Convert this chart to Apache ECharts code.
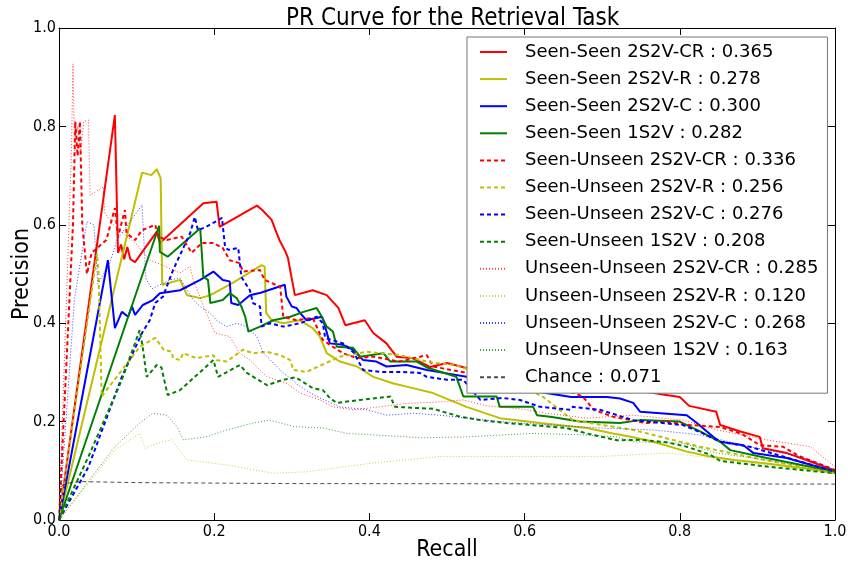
<!DOCTYPE html>
<html><head><meta charset="utf-8">
<script src="https://cdn.jsdelivr.net/npm/echarts@6/dist/echarts.min.js"></script>
<style>html,body{margin:0;padding:0;background:#fff}#c{width:848px;height:563px}</style>
</head><body><div id="c"></div>
<script>
const xTicks = [0.0, 0.2, 0.4, 0.6, 0.8, 1.0];
const yTicks = [0.0, 0.2, 0.4, 0.6, 0.8, 1.0];

const ssCR = [[0,0],[0.072,0.823],[0.076,0.543],[0.080,0.56],[0.084,0.53],[0.088,0.555],[0.092,0.53],[0.098,0.524],[0.126,0.586],[0.130,0.563],[0.186,0.644],[0.203,0.647],[0.207,0.596],[0.255,0.639],[0.262,0.63],[0.274,0.61],[0.280,0.585],[0.285,0.566],[0.292,0.545],[0.295,0.533],[0.300,0.49],[0.304,0.457],[0.327,0.467],[0.345,0.457],[0.352,0.445],[0.360,0.431],[0.369,0.396],[0.394,0.406],[0.405,0.38],[0.422,0.359],[0.435,0.332],[0.456,0.329],[0.478,0.311],[0.50,0.319],[0.525,0.309],[0.56,0.30],[0.62,0.29],[0.68,0.28],[0.74,0.265],[0.778,0.255],[0.80,0.25],[0.812,0.232],[0.847,0.22],[0.852,0.193],[0.878,0.18],[0.903,0.169],[0.907,0.146],[0.938,0.136],[0.963,0.122],[1.0,0.10]];
const ssR = [[0,0],[0.107,0.706],[0.119,0.701],[0.126,0.713],[0.131,0.695],[0.133,0.478],[0.156,0.488],[0.165,0.457],[0.182,0.451],[0.195,0.457],[0.224,0.482],[0.261,0.518],[0.265,0.515],[0.267,0.421],[0.274,0.406],[0.289,0.40],[0.31,0.406],[0.327,0.39],[0.336,0.373],[0.345,0.339],[0.362,0.322],[0.384,0.312],[0.405,0.291],[0.43,0.278],[0.456,0.268],[0.482,0.258],[0.525,0.23],[0.568,0.207],[0.62,0.197],[0.68,0.187],[0.714,0.176],[0.74,0.168],[0.766,0.159],[0.809,0.139],[0.839,0.129],[0.87,0.122],[0.912,0.115],[0.96,0.105],[1.0,0.096]];
const ssC = [[0,0],[0.063,0.528],[0.072,0.39],[0.081,0.423],[0.089,0.413],[0.094,0.434],[0.098,0.417],[0.108,0.437],[0.121,0.447],[0.130,0.461],[0.156,0.467],[0.182,0.488],[0.199,0.505],[0.211,0.488],[0.22,0.485],[0.222,0.441],[0.231,0.437],[0.246,0.457],[0.26,0.462],[0.291,0.478],[0.293,0.454],[0.30,0.434],[0.306,0.431],[0.311,0.42],[0.319,0.406],[0.339,0.413],[0.343,0.393],[0.349,0.359],[0.366,0.356],[0.379,0.346],[0.392,0.325],[0.409,0.322],[0.422,0.312],[0.448,0.315],[0.474,0.305],[0.50,0.298],[0.525,0.291],[0.58,0.27],[0.64,0.255],[0.66,0.25],[0.706,0.25],[0.723,0.247],[0.74,0.238],[0.749,0.22],[0.775,0.217],[0.809,0.213],[0.822,0.197],[0.843,0.169],[0.852,0.159],[0.882,0.152],[0.895,0.136],[0.938,0.126],[1.0,0.098]];
const ss1 = [[0,0],[0.129,0.598],[0.13,0.545],[0.14,0.535],[0.182,0.593],[0.186,0.494],[0.192,0.488],[0.195,0.441],[0.211,0.447],[0.22,0.461],[0.229,0.451],[0.235,0.434],[0.24,0.413],[0.244,0.383],[0.259,0.393],[0.276,0.406],[0.298,0.413],[0.315,0.423],[0.332,0.431],[0.338,0.415],[0.345,0.393],[0.353,0.383],[0.358,0.352],[0.379,0.35],[0.388,0.332],[0.418,0.339],[0.427,0.322],[0.461,0.322],[0.474,0.31],[0.512,0.291],[0.521,0.251],[0.564,0.251],[0.568,0.23],[0.611,0.23],[0.616,0.213],[0.633,0.21],[0.671,0.2],[0.723,0.197],[0.749,0.203],[0.80,0.20],[0.826,0.18],[0.852,0.159],[0.865,0.142],[0.912,0.126],[1.0,0.098]];
const suCR = [[0,0],[0.018,0.6],[0.021,0.81],[0.024,0.74],[0.027,0.81],[0.03,0.6],[0.036,0.5],[0.042,0.543],[0.061,0.569],[0.072,0.634],[0.076,0.576],[0.085,0.63],[0.087,0.583],[0.098,0.569],[0.107,0.589],[0.124,0.6],[0.128,0.576],[0.139,0.569],[0.158,0.576],[0.171,0.543],[0.184,0.563],[0.199,0.563],[0.211,0.553],[0.22,0.528],[0.233,0.522],[0.237,0.505],[0.259,0.508],[0.265,0.488],[0.285,0.474],[0.289,0.413],[0.306,0.406],[0.327,0.411],[0.334,0.386],[0.34,0.366],[0.353,0.352],[0.366,0.339],[0.384,0.329],[0.405,0.332],[0.439,0.322],[0.474,0.335],[0.482,0.312],[0.525,0.299],[0.60,0.28],[0.66,0.26],[0.675,0.251],[0.689,0.224],[0.714,0.21],[0.757,0.197],[0.783,0.20],[0.813,0.193],[0.852,0.189],[0.88,0.175],[0.903,0.152],[0.933,0.149],[0.955,0.129],[1.0,0.102]];
const suR = [[0,0],[0.049,0.542],[0.051,0.5],[0.055,0.251],[0.104,0.352],[0.124,0.37],[0.135,0.346],[0.145,0.342],[0.147,0.329],[0.156,0.325],[0.16,0.339],[0.177,0.329],[0.199,0.335],[0.203,0.325],[0.216,0.322],[0.237,0.346],[0.25,0.339],[0.268,0.342],[0.285,0.335],[0.298,0.325],[0.302,0.305],[0.319,0.301],[0.362,0.332],[0.397,0.342],[0.439,0.335],[0.48,0.32],[0.51,0.315],[0.56,0.29],[0.60,0.27],[0.624,0.25],[0.662,0.203],[0.74,0.183],[0.826,0.149],[0.90,0.125],[1.0,0.095]];
const suC = [[0,0],[0.038,0.108],[0.081,0.291],[0.107,0.38],[0.117,0.406],[0.124,0.441],[0.134,0.454],[0.147,0.508],[0.169,0.583],[0.175,0.616],[0.179,0.589],[0.19,0.596],[0.21,0.614],[0.214,0.555],[0.218,0.549],[0.231,0.553],[0.235,0.494],[0.246,0.467],[0.25,0.441],[0.259,0.434],[0.261,0.393],[0.272,0.40],[0.289,0.393],[0.311,0.40],[0.332,0.413],[0.34,0.40],[0.343,0.37],[0.366,0.359],[0.38,0.34],[0.392,0.305],[0.414,0.301],[0.439,0.301],[0.465,0.299],[0.474,0.291],[0.50,0.285],[0.521,0.285],[0.543,0.244],[0.572,0.248],[0.594,0.244],[0.62,0.23],[0.659,0.224],[0.662,0.23],[0.697,0.224],[0.74,0.203],[0.804,0.193],[0.83,0.176],[0.852,0.159],[0.89,0.149],[0.933,0.129],[1.0,0.098]];
const su1 = [[0,0],[0.038,0.129],[0.081,0.285],[0.104,0.386],[0.108,0.35],[0.113,0.291],[0.126,0.315],[0.132,0.31],[0.14,0.254],[0.156,0.264],[0.199,0.325],[0.205,0.291],[0.233,0.315],[0.242,0.299],[0.268,0.274],[0.289,0.285],[0.305,0.29],[0.327,0.268],[0.34,0.264],[0.349,0.248],[0.358,0.238],[0.388,0.244],[0.427,0.251],[0.433,0.23],[0.482,0.226],[0.517,0.21],[0.543,0.203],[0.577,0.197],[0.654,0.187],[0.68,0.176],[0.719,0.162],[0.75,0.163],[0.783,0.158],[0.809,0.149],[0.839,0.133],[0.852,0.12],[0.916,0.108],[1.0,0.095]];
const uuCR = [[0,0],[0.016,0.75],[0.018,0.927],[0.02,0.75],[0.024,0.80],[0.028,0.75],[0.032,0.81],[0.038,0.813],[0.04,0.66],[0.057,0.677],[0.059,0.624],[0.07,0.60],[0.085,0.58],[0.10,0.56],[0.117,0.528],[0.13,0.52],[0.156,0.502],[0.169,0.515],[0.173,0.488],[0.19,0.42],[0.201,0.38],[0.22,0.373],[0.233,0.339],[0.246,0.325],[0.268,0.291],[0.293,0.278],[0.311,0.258],[0.336,0.244],[0.353,0.23],[0.379,0.224],[0.414,0.23],[0.448,0.237],[0.491,0.24],[0.521,0.244],[0.551,0.232],[0.60,0.225],[0.628,0.217],[0.68,0.207],[0.74,0.213],[0.804,0.203],[0.848,0.183],[0.912,0.163],[0.968,0.149],[1.0,0.108]];
const uuR = [[0,0],[0.072,0.142],[0.104,0.176],[0.111,0.146],[0.125,0.155],[0.145,0.163],[0.165,0.122],[0.216,0.112],[0.276,0.095],[0.319,0.098],[0.405,0.116],[0.491,0.129],[0.525,0.129],[0.611,0.129],[0.697,0.129],[0.783,0.136],[0.826,0.129],[0.89,0.116],[0.955,0.105],[1.0,0.095]];
const uuC = [[0,0],[0.02,0.45],[0.036,0.606],[0.045,0.60],[0.05,0.48],[0.065,0.52],[0.075,0.57],[0.107,0.64],[0.109,0.58],[0.112,0.49],[0.12,0.47],[0.143,0.488],[0.156,0.492],[0.173,0.447],[0.182,0.434],[0.195,0.42],[0.203,0.406],[0.216,0.393],[0.229,0.40],[0.242,0.393],[0.255,0.373],[0.263,0.34],[0.289,0.299],[0.311,0.271],[0.332,0.251],[0.362,0.23],[0.397,0.224],[0.422,0.213],[0.456,0.217],[0.491,0.213],[0.568,0.20],[0.633,0.193],[0.697,0.187],[0.766,0.183],[0.826,0.173],[0.89,0.149],[0.955,0.129],[1.0,0.102]];
const uu1 = [[0,0],[0.072,0.149],[0.104,0.197],[0.121,0.217],[0.139,0.213],[0.152,0.19],[0.16,0.163],[0.19,0.169],[0.216,0.183],[0.25,0.197],[0.272,0.203],[0.302,0.19],[0.34,0.187],[0.371,0.176],[0.405,0.173],[0.469,0.167],[0.525,0.169],[0.611,0.176],[0.675,0.173],[0.719,0.169],[0.74,0.159],[0.804,0.156],[0.848,0.136],[0.912,0.122],[1.0,0.098]];
const chance = [[0,0],[0.003,0.07],[0.012,0.075],[0.03,0.078],[0.10,0.076],[0.30,0.074],[1.0,0.073]];

const names = ['Seen-Seen 2S2V-CR : 0.365','Seen-Seen 2S2V-R : 0.278','Seen-Seen 2S2V-C : 0.300','Seen-Seen 1S2V : 0.282',
  'Seen-Unseen 2S2V-CR : 0.336','Seen-Unseen 2S2V-R : 0.256','Seen-Unseen 2S2V-C : 0.276','Seen-Unseen 1S2V : 0.208',
  'Unseen-Unseen 2S2V-CR : 0.285','Unseen-Unseen 2S2V-R : 0.120','Unseen-Unseen 2S2V-C : 0.268','Unseen-Unseen 1S2V : 0.163','Chance : 0.071'];
const dataSets = [ssCR, ssR, ssC, ss1, suCR, suR, suC, su1, uuCR, uuR, uuC, uu1, chance];
const colors = ['#ff0000','#bfbf00','#0000ff','#008000','#ff0000','#bfbf00','#0000ff','#008000','#ff0000','#bfbf00','#0000ff','#008000','#000000'];
const SOLID = 'solid', DASH = [4,3], DOT = [1,2];
const styles = [
  {t:SOLID,w:2},{t:SOLID,w:2},{t:SOLID,w:2},{t:SOLID,w:2},
  {t:DASH,w:2},{t:DASH,w:2},{t:DASH,w:2},{t:DASH,w:2},
  {t:DOT,w:1,o:0.75},{t:DOT,w:1,o:0.75},{t:DOT,w:1,o:0.75},{t:DOT,w:1,o:0.75},
  {t:[4,3],w:1,o:0.7}
];

const chart = echarts.init(document.getElementById('c'), null, {renderer:'canvas'});
const tickFont = {fontFamily:'DejaVu Sans Condensed, DejaVu Sans', fontSize:16, color:'#000'};
const axisCommon = {
  type:'value', min:0, max:1, interval:0.2,
  axisLine:{show:true, onZero:false, lineStyle:{color:'#000', width:1}},
  axisTick:{show:true, inside:true, length:7, lineStyle:{color:'#000'}},
  splitLine:{show:false}
};
chart.setOption({
  animation:false,
  backgroundColor:'#fff',
  title:{text:'PR Curve for the Retrieval Task', left:281, top:2,
    textStyle:{fontFamily:'DejaVu Sans Condensed, DejaVu Sans', fontSize:24, fontWeight:'normal', color:'#000'}},
  grid:{left:59, right:13, top:28, bottom:43, containLabel:false, outerBoundsMode:'none'},
  legend:{
    orient:'vertical', left:467, top:37,
    data:names,
    backgroundColor:'#fff', borderColor:'#777', borderWidth:1, borderRadius:0,
    padding:[5,9,6,12], itemGap:7.1, itemWidth:27, itemHeight:20,
    itemStyle:{opacity:0},
    textStyle:{fontFamily:'DejaVu Sans', fontSize:18, color:'#000', lineHeight:20, padding:[0,0,0,13]}
  },
  xAxis:[
    Object.assign({}, axisCommon, {position:'bottom', name:'Recall', nameLocation:'middle', nameGap:19, nameMoveOverlap:false,
      nameTextStyle:{fontFamily:'DejaVu Sans Condensed, DejaVu Sans', fontSize:23, color:'#000'},
      axisLabel:Object.assign({margin:4, formatter:v=>v.toFixed(1)}, tickFont)}),
    Object.assign({}, axisCommon, {position:'top', axisLabel:{show:false}})
  ],
  yAxis:[
    Object.assign({}, axisCommon, {position:'left', name:'Precision', nameLocation:'middle', nameGap:25, nameMoveOverlap:false,
      nameTextStyle:{fontFamily:'DejaVu Sans Condensed, DejaVu Sans', fontSize:23, color:'#000'},
      axisLabel:Object.assign({margin:3, formatter:v=>v.toFixed(1)}, tickFont)}),
    Object.assign({}, axisCommon, {position:'right', axisLabel:{show:false}})
  ],
  series: dataSets.map((d,i)=>({
    name:names[i], type:'line', data:d, xAxisIndex:0, yAxisIndex:0,
    symbol:'none', showSymbol:false, silent:true, clip:true,
    lineStyle:{color:colors[i], width:styles[i].w, type:styles[i].t, opacity:styles[i].o||1},
    itemStyle:{color:colors[i]}
  }))
});
</script></body></html>
